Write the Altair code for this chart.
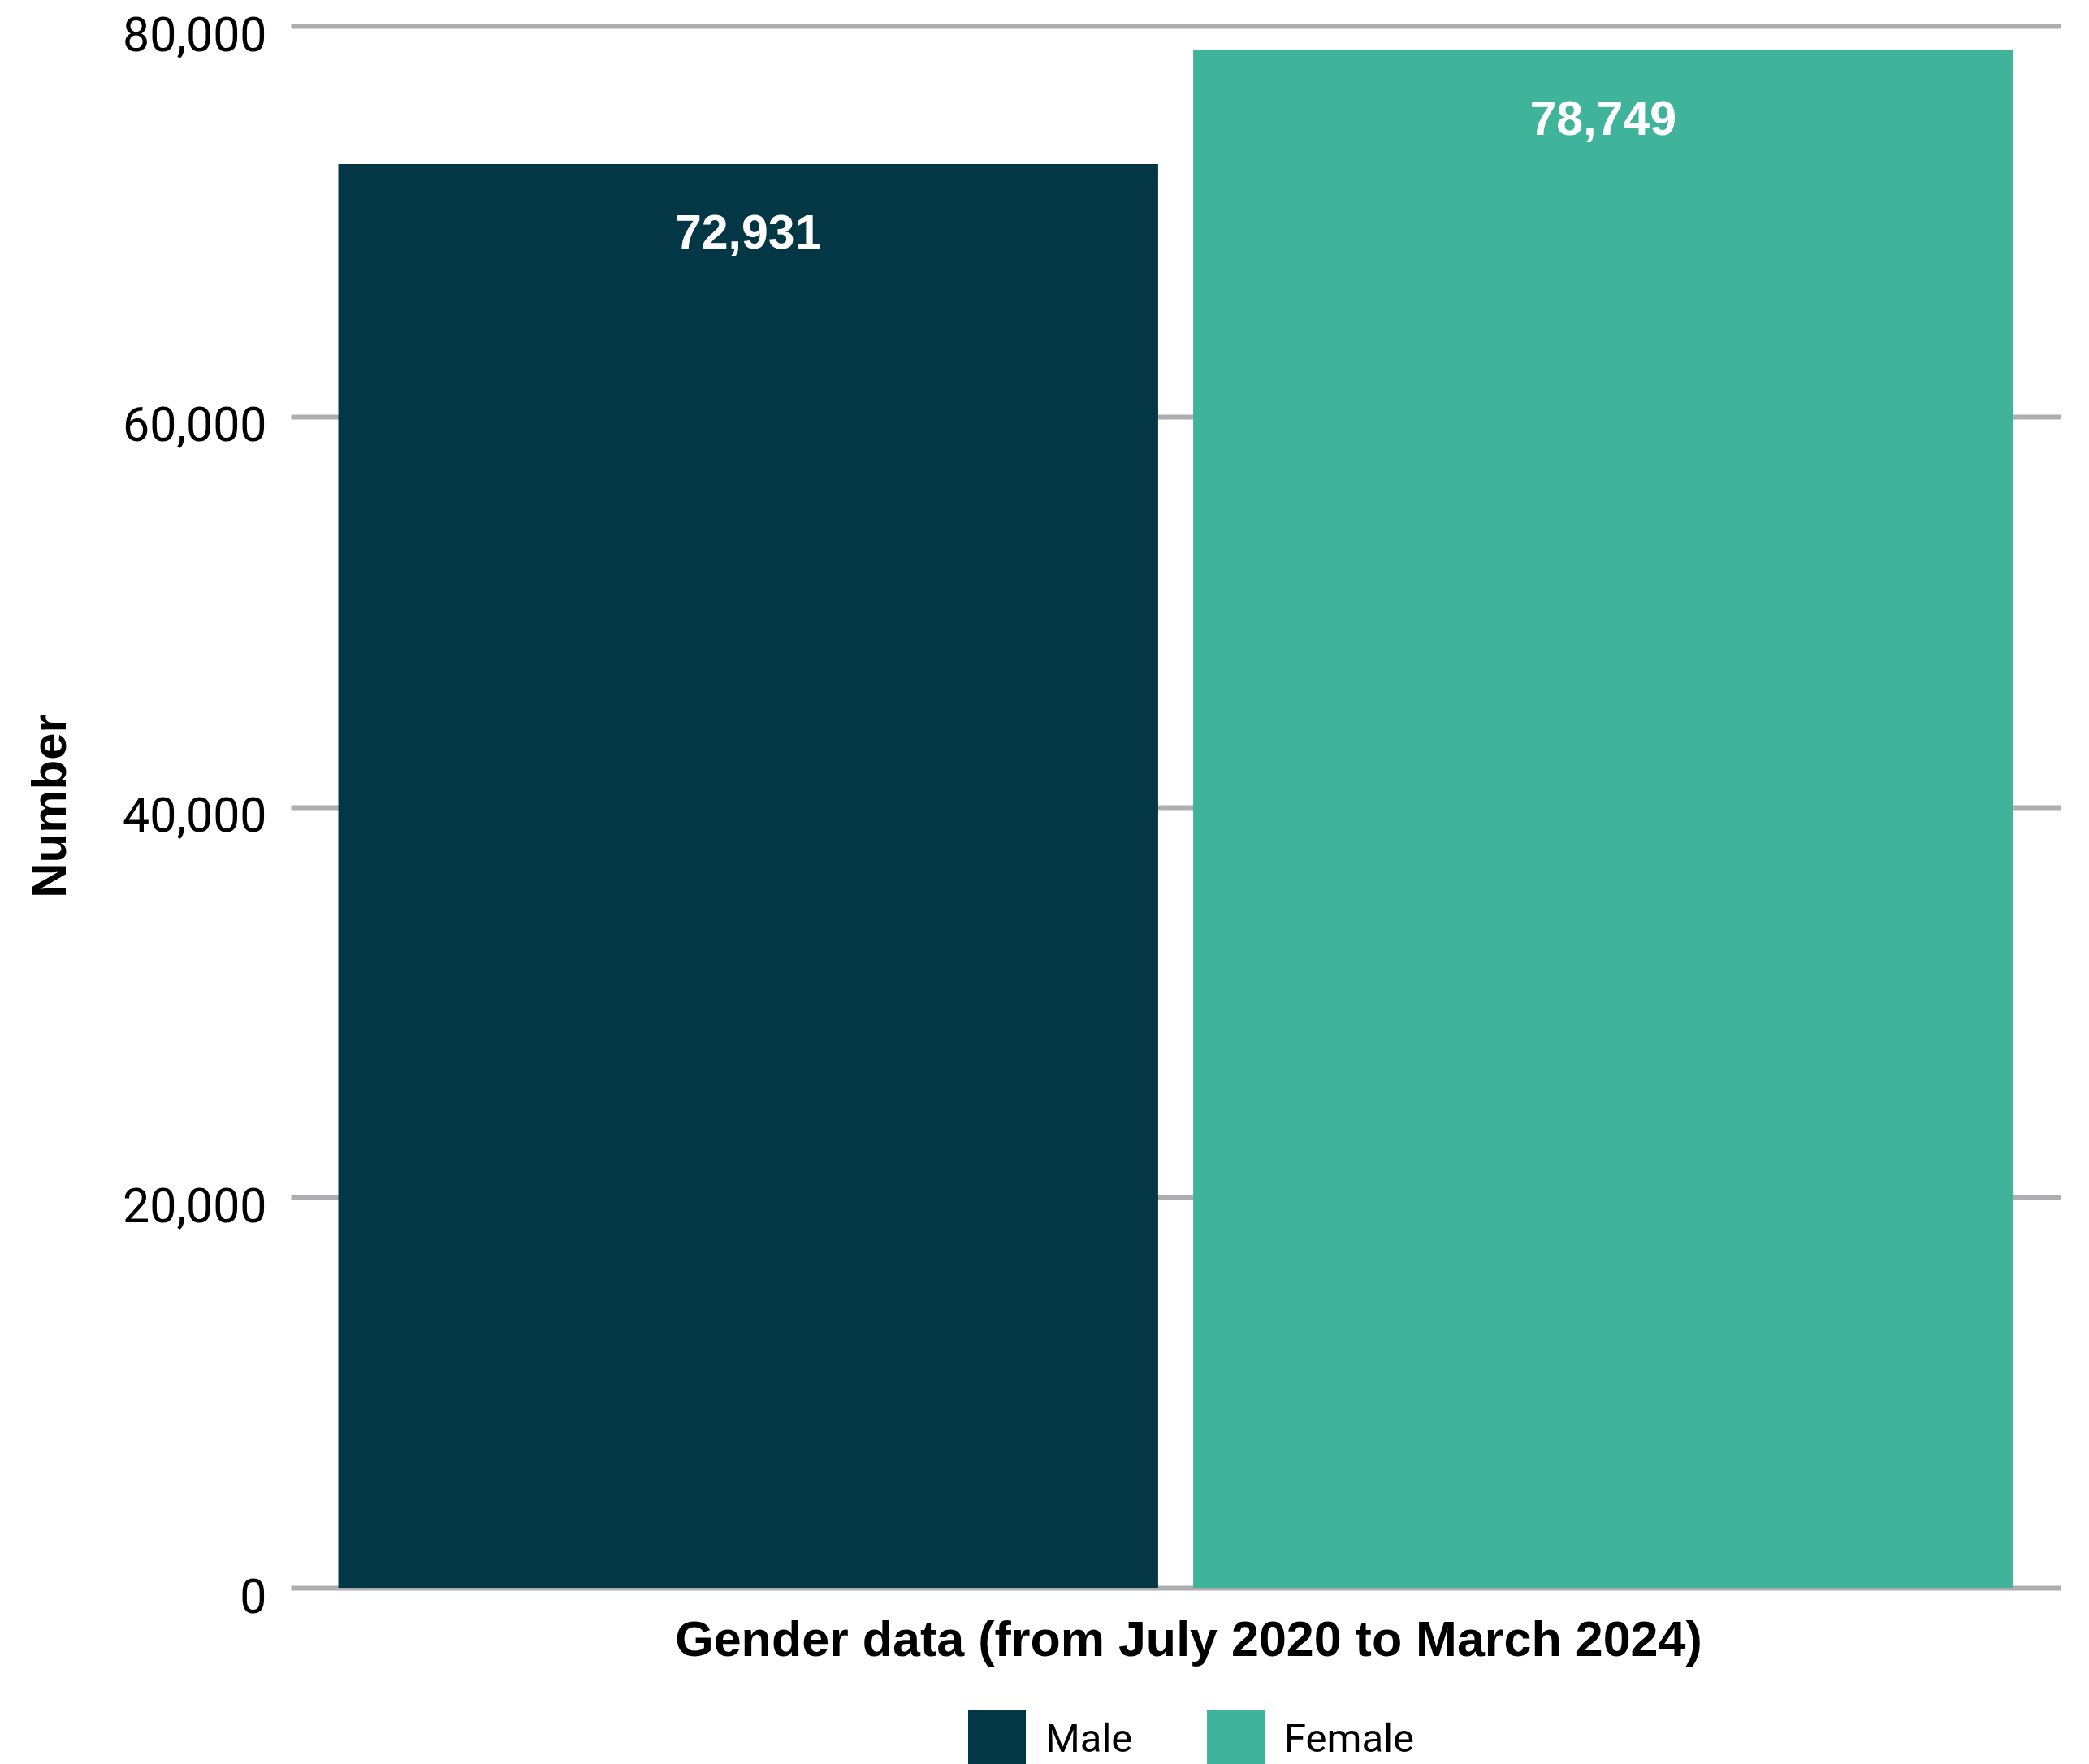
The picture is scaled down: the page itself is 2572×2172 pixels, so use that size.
import altair as alt
import pandas as pd

genders = ["Male", "Female"]
counts = [72931, 78749]
colors = ["#043745", "#40B49B"]
y_ticks = [0, 20000, 40000, 60000, 80000]

df = pd.DataFrame({"Gender": genders, "Count": counts})

x_enc = alt.X(
    "Gender:N",
    sort=genders,
    scale=alt.Scale(paddingInner=0.041, paddingOuter=0.0556),
    axis=alt.Axis(
        labels=False, ticks=False, domain=False, grid=False,
        title="Gender data (from July 2020 to March 2024)",
        titleFont="Liberation Sans", titleFontWeight="bold", titleFontSize=61,
        titleColor="#000000",
        titleX=1105, titleY=83, titleBaseline="alphabetic", titleAlign="center",
    ),
)
y_enc = alt.Y(
    "Count:Q",
    scale=alt.Scale(domain=[0, 80000], nice=False),
    axis=alt.Axis(
        values=y_ticks, format=",d", ticks=False, domain=False,
        grid=True, gridColor="#AEADB2", gridWidth=6,
        labelFont="Roboto", labelFontSize=59, labelColor="#000000",
        labelPadding=30, labelBaseline="alphabetic", labelOffset=30,
        title="Number",
        titleFont="Liberation Sans", titleFontWeight="bold", titleFontSize=60,
        titleColor="#000000", titleAngle=270,
        titleX=-278, titleY=960, titleBaseline="alphabetic", titleAlign="center",
    ),
)

bars = alt.Chart(df).mark_bar().encode(
    x=x_enc,
    y=y_enc,
    color=alt.Color(
        "Gender:N",
        sort=genders,
        scale=alt.Scale(domain=genders, range=colors),
        legend=alt.Legend(
            title=None, orient="none", legendX=834, legendY=2074,
            direction="horizontal", symbolType="square", symbolSize=5041,
            symbolStrokeWidth=0, symbolOpacity=1,
            labelFont="Roboto", labelFontSize=49, labelColor="#000000",
            labelOffset=24, labelLimit=500, columnPadding=91, padding=0,
        ),
    ),
)

labels = alt.Chart(df).mark_text(
    color="white", font="Liberation Sans", fontWeight="bold", fontSize=59,
    baseline="top", dy=57,
).encode(
    x=alt.X("Gender:N", sort=genders),
    y=alt.Y("Count:Q"),
    text=alt.Text("Count:Q", format=",d"),
)

chart = alt.layer(bars, labels).properties(
    width=2179, height=1923,
    background="white",
    autosize=alt.AutoSizeParams(type="none"),
    padding={"left": 358, "top": 32, "right": 35, "bottom": 217},
).configure_view(strokeWidth=0, stroke="transparent")

chart.save("out.html", embed_options={"renderer": "svg", "actions": False})
